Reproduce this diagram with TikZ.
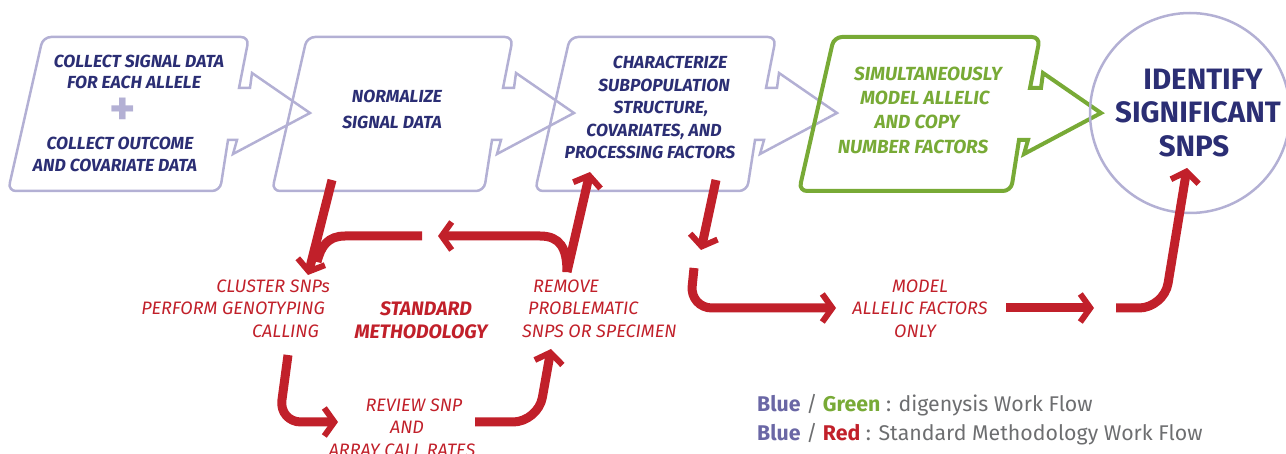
\documentclass[tikz,border=0pt]{standalone}
\usepackage{fontspec}
\setmainfont{Fira Sans}
\usetikzlibrary{arrows.meta}
\definecolor{navy}{HTML}{2B2E74}
\definecolor{lav}{HTML}{B3B0D4}
\definecolor{grn}{HTML}{78AA36}
\definecolor{rd}{HTML}{C1202A}
\definecolor{legblue}{HTML}{6A67A5}
\definecolor{leggray}{HTML}{6D6E70}
\newcommand\flowshape[2]{%
\draw[#2, shift={(#1,0)}] (150,37) [rounded corners=8pt] -- (249,37) [sharp corners] -- (239,88) -- (250,88) -- (252,73) -- (310,113) -- (233,154) -- (237,140) -- (228,140) [rounded corners=8pt] -- (220,191) -- (8,191) -- (43,37) -- cycle;}
\begin{document}
\begin{tikzpicture}[x=1pt,y=-1pt,
  bt/.style={font=\fontsize{17.5}{20}\selectfont\bfseries\itshape, text=navy, inner sep=0pt, anchor=base},
  gt/.style={font=\fontsize{19}{22}\selectfont\bfseries\itshape, text=grn, inner sep=0pt, anchor=base},
  ct/.style={font=\fontsize{29.5}{32}\selectfont\bfseries, text=navy, inner sep=0pt, anchor=base},
  rtx/.style={font=\fontsize{18}{21}\selectfont\itshape, text=rd, inner sep=0pt, anchor=base},
  rtb/.style={font=\fontsize{19.5}{22}\selectfont\bfseries\itshape, text=rd, inner sep=0pt, anchor=base},
  lg/.style={font=\fontsize{21.3}{24}\selectfont, text=leggray, inner sep=0pt, anchor=base west},
  lavline/.style={draw=lav, line width=2.5pt},
  grnline/.style={draw=grn, line width=4pt},
  redarr/.style={draw=rd, line width=9pt, -{Straight Barb[length=10pt,width=28pt,line width=6pt]}},
  redline/.style={draw=rd, line width=9pt}]
\useasboundingbox (0,0) rectangle (1286,454);
% boxes
\flowshape{0}{lavline}
\flowshape{264}{lavline}
\flowshape{527}{lavline}
\flowshape{791}{grnline}
\draw[lavline] (1190,113) circle[radius=100];
% box 1 text
\node[bt] (a1) at (139,68) {COLLECT SIGNAL DATA};
\node[bt] (a2) at (134,89) {FOR EACH ALLELE};
\node[font=\fontsize{50}{50}\selectfont\bfseries, text=lav, inner sep=0pt] (plus) at (123,112) {+};
\node[bt] (a3) at (120,150) {COLLECT OUTCOME};
\node[bt] (a4) at (115,172) {AND COVARIATE DATA};
% box 2
\node[bt] (b1) at (397,103) {NORMALIZE};
\node[bt] (b2) at (392,129) {SIGNAL DATA};
% box 3
\node[bt] (c1) at (670,69) {CHARACTERIZE};
\node[bt] (c2) at (664,92) {SUBPOPULATION};
\node[bt] (c3) at (661,114) {STRUCTURE,};
\node[bt] (c4) at (654,137) {COVARIATES, AND};
\node[bt] (c5) at (650,159) {PROCESSING FACTORS};
% box 4
\node[gt] (d1) at (928,81) {SIMULTANEOUSLY};
\node[gt] (d2) at (925,105) {MODEL ALLELIC};
\node[gt] (d3) at (917,129) {AND COPY};
\node[gt] (d4) at (913,154) {NUMBER FACTORS};
% circle
\node[ct] (e1) at (1203,90) {IDENTIFY};
\node[ct] (e2) at (1198,123) {SIGNIFICANT};
\node[ct] (e3) at (1194,157) {SNPS};
% red texts
\node[rtx, anchor=base east] (r1) at (330,293) {CLUSTER SNPs};
\node[rtx, anchor=base east] (r2) at (325,315) {PERFORM GENOTYPING};
\node[rtx, anchor=base east] (r3) at (319,338) {CALLING};
\node[rtb] (s1) at (426,316) {STANDARD};
\node[rtb] (s2) at (421,339) {METHODOLOGY};
\node[rtx, anchor=base west] (m1) at (533,293) {REMOVE};
\node[rtx, anchor=base west] (m2) at (528,315) {PROBLEMATIC};
\node[rtx, anchor=base west] (m3) at (522,338) {SNPS OR SPECIMEN};
\node[rtx] (v1) at (414,411) {REVIEW SNP};
\node[rtx] (v2) at (407,434) {AND};
\node[rtx] (v3) at (402,456) {ARRAY CALL RATES};
\node[rtx] (o1) at (920,293) {MODEL};
\node[rtx] (o2) at (920,315) {ALLELIC FACTORS};
\node[rtx] (o3) at (915,338) {ONLY};
% legend
\node[lg] (l1) at (757,411) {\textbf{\textcolor{legblue}{Blue}} / \textbf{\textcolor{grn}{Green}} : digenysis Work Flow};
\node[lg] (l2) at (757,440) {\textbf{\textcolor{legblue}{Blue}} / \textbf{\textcolor{rd}{Red}} : Standard Methodology Work Flow};
% red connector coordinates
\coordinate (p1) at (332,180);
\coordinate (p1t) at (308,275);
\coordinate (q1) at (567,272);
\coordinate (q1t) at (590,172);
\coordinate (h1) at (422,236);
\coordinate (h1t) at (438,236);
\coordinate (k1) at (288,355);
\coordinate (k1c) at (279,422);
\coordinate (k1t) at (338,422);
\coordinate (k2) at (475,422);
\coordinate (k2c) at (538,422);
\coordinate (k2t) at (551,349);
\coordinate (f1) at (716,180);
\coordinate (f1t) at (701,250);
\coordinate (g1) at (694,268);
\coordinate (g1c) at (690,308);
\coordinate (g1t) at (836,308);
\coordinate (g2) at (1006,308);
\coordinate (g2t) at (1094,308);
\coordinate (g3) at (1116,308);
\coordinate (g3c) at (1164,308);
\coordinate (g3t) at (1187,168);
% red connectors
\draw[redarr] (p1) -- (p1t);
\draw[redline] (h1) -- (345,236) .. controls (328,236) and (321,246) .. (317,262);
\draw[redarr] (q1) -- (q1t);
\draw[redarr] (q1) .. controls (567,248) and (560,236) .. (540,236) -- (h1t);
\draw[redarr, rounded corners=22pt] (k1) -- (k1c) -- (k1t);
\draw[redarr, rounded corners=25pt] (k2) -- (k2c) -- (k2t);
\draw[redarr] (f1) -- (f1t);
\draw[redarr, rounded corners=22pt] (g1) -- (g1c) -- (g1t);
\draw[redarr] (g2) -- (g2t);
\draw[redarr, rounded corners=25pt] (g3) -- (g3c) -- (g3t);
\end{tikzpicture}
\end{document}
